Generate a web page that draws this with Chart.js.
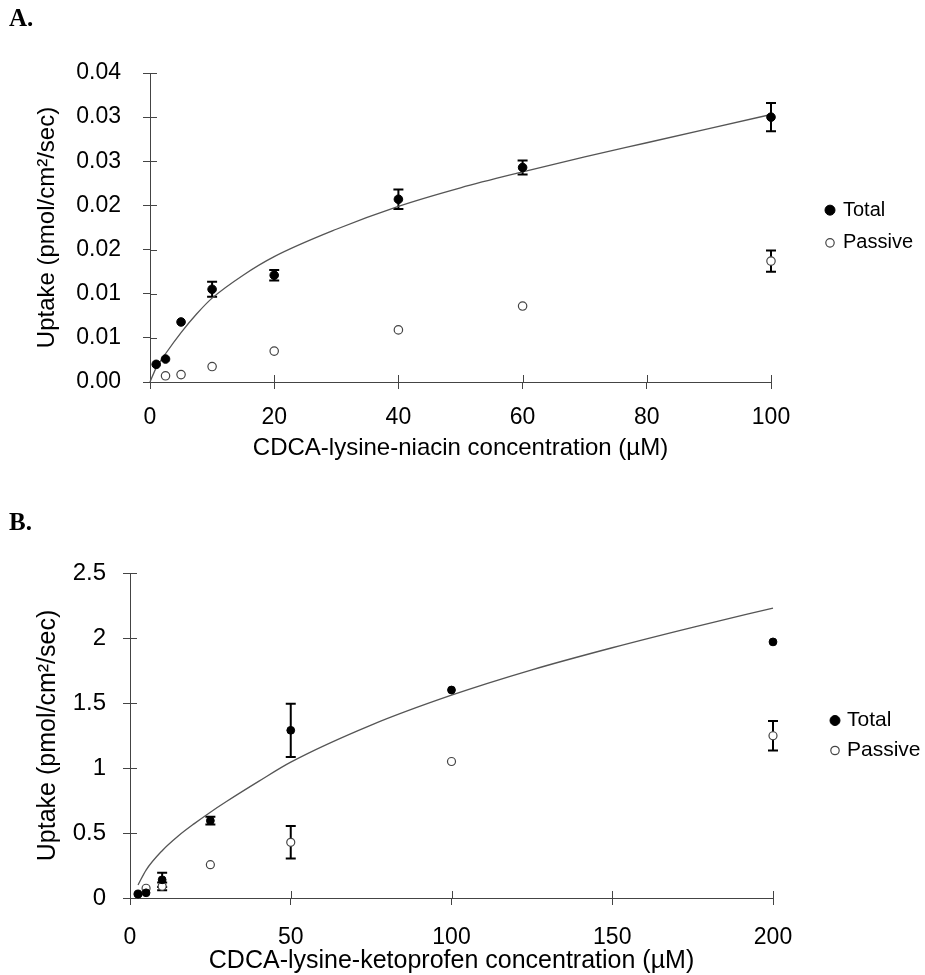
<!DOCTYPE html>
<html>
<head>
<meta charset="utf-8">
<title>Uptake</title>
<script src="https://cdn.jsdelivr.net/npm/chart.js@4.4.1/dist/chart.umd.min.js"></script>
<style>
  html, body { margin: 0; padding: 0; background: #fff; overflow: hidden; }
  .panel { position: absolute; left: 0; width: 925px; }
  #panelA { top: 0; height: 480px; }
  #panelB { top: 480px; height: 495px; }
</style>
</head>
<body>
<div class="panel" id="panelA"><canvas id="chartA"></canvas></div>
<div class="panel" id="panelB"><canvas id="chartB"></canvas></div>
<script>
// Panel A – CDCA-lysine-niacin
const concA = [1, 2.5, 5, 10, 20, 40, 60, 100];
const totalA = [0.0020, 0.0026, 0.0068, 0.0105, 0.0121, 0.0207, 0.0243, 0.0300];
const totalErrA = [0, 0, 0, 0.00085, 0.0006, 0.0011, 0.0008, 0.0016];
const concPassiveA = [2.5, 5, 10, 20, 40, 60, 100];
const passiveA = [0.0007, 0.00084, 0.00175, 0.0035, 0.0059, 0.0086, 0.0137];
const passiveErrA = [0, 0, 0, 0, 0, 0, 0.0012];
const concFitA = [0, 1, 2.5, 5, 7.5, 10, 15, 20, 30, 40, 50, 60, 70, 80, 90, 100];
const fitA = [0, 0.0016, 0.0032, 0.0056, 0.0077, 0.0095, 0.0121, 0.0142, 0.0173, 0.0199, 0.0220, 0.0238, 0.0255, 0.0271, 0.0287, 0.0303];
const yTicksA = ['0.00', '0.01', '0.01', '0.02', '0.02', '0.03', '0.03', '0.04'];

// Panel B – CDCA-lysine-ketoprofen
const concB = [2.5, 5, 10, 25, 50, 100, 200];
const totalB = [0.03, 0.04, 0.14, 0.595, 1.29, 1.60, 1.97];
const totalErrB = [0, 0, 0.055, 0.03, 0.205, 0, 0];
const passiveB = [0.03, 0.075, 0.09, 0.256, 0.428, 1.05, 1.248];
const passiveErrB = [0, 0, 0.03, 0, 0.125, 0, 0.113];
const concFitB = [2.5, 5, 10, 15, 20, 25, 30, 40, 50, 75, 100, 125, 150, 175, 200];
const fitB = [0.10, 0.215, 0.364, 0.477, 0.572, 0.66, 0.742, 0.897, 1.045, 1.33, 1.56, 1.755, 1.925, 2.082, 2.23];
const yTicksB = ['0', '0.5', '1', '1.5', '2', '2.5'];

const FONT = "'Liberation Sans', Arial, sans-serif";
const SERIF = "'Liberation Serif', 'Times New Roman', serif";
const AXIS = '#444';

const toPoints = (xs, ys) => xs.map((x, i) => ({ x, y: ys[i] }));

// error bars, drawn under the markers
const errorBars = {
  id: 'errorBars',
  beforeDatasetsDraw(chart) {
    const { ctx } = chart;
    const xs = chart.scales.x, ys = chart.scales.y;
    ctx.save();
    ctx.strokeStyle = '#000';
    ctx.lineWidth = 2;
    chart.data.datasets.forEach(ds => {
      if (!ds.errors) return;
      ds.data.forEach((p, i) => {
        const e = ds.errors[i];
        if (!e) return;
        const px = xs.getPixelForValue(p.x);
        const top = ys.getPixelForValue(p.y + e);
        const bot = ys.getPixelForValue(p.y - e);
        ctx.beginPath();
        ctx.moveTo(px, top); ctx.lineTo(px, bot);
        ctx.moveTo(px - 5, top); ctx.lineTo(px + 5, top);
        ctx.moveTo(px - 5, bot); ctx.lineTo(px + 5, bot);
        ctx.stroke();
      });
    });
    ctx.restore();
  },
};

// tick marks cross the axis: add the inner half
const crossTicks = {
  id: 'crossTicks',
  beforeDatasetsDraw(chart) {
    const { ctx, chartArea } = chart;
    const xs = chart.scales.x, ys = chart.scales.y;
    ctx.save();
    ctx.strokeStyle = AXIS;
    ctx.lineWidth = 1;
    ctx.beginPath();
    xs.ticks.forEach(t => {
      const px = Math.round(xs.getPixelForValue(t.value)) + 0.5;
      ctx.moveTo(px, chartArea.bottom);
      ctx.lineTo(px, chartArea.bottom - 7);
    });
    ys.ticks.forEach(t => {
      const py = Math.round(ys.getPixelForValue(t.value)) + 0.5;
      ctx.moveTo(chartArea.left, py);
      ctx.lineTo(chartArea.left + 7, py);
    });
    ctx.stroke();
    ctx.restore();
  },
};

// legend to the right of the plot, centred on it
const sideLegend = {
  id: 'sideLegend',
  afterDraw(chart, args, opts) {
    const { ctx, chartArea } = chart;
    const items = chart.data.datasets.filter(ds => ds.inLegend);
    const midY = (chartArea.top + chartArea.bottom) / 2 + opts.offsetY;
    ctx.save();
    ctx.font = `${opts.fontSize}px ${FONT}`;
    ctx.textBaseline = 'middle';
    ctx.textAlign = 'left';
    items.forEach((ds, i) => {
      const cy = midY + (i - (items.length - 1) / 2) * opts.rowGap;
      ctx.beginPath();
      ctx.arc(chartArea.right + opts.markerX, cy, ds.legendRadius, 0, Math.PI * 2);
      ctx.fillStyle = ds.backgroundColor;
      ctx.fill();
      ctx.lineWidth = ds.borderWidth;
      ctx.strokeStyle = ds.borderColor;
      ctx.stroke();
      ctx.fillStyle = '#000';
      ctx.fillText(ds.label, chartArea.right + opts.textX, cy);
    });
    ctx.restore();
  },
};

function panelChart(id, p) {
  return new Chart(document.getElementById(id), {
    type: 'scatter',
    data: {
      datasets: [
        {
          label: 'Total',
          data: toPoints(p.conc, p.total),
          errors: p.totalErr,
          inLegend: true,
          legendRadius: 5,
          backgroundColor: '#000',
          borderColor: '#000',
          borderWidth: 1,
          pointRadius: p.dot,
          clip: false,
        },
        {
          label: 'Passive',
          data: toPoints(p.passiveConc, p.passive),
          errors: p.passiveErr,
          inLegend: true,
          legendRadius: 4.2,
          backgroundColor: '#fff',
          borderColor: '#444',
          borderWidth: 1.2,
          pointRadius: p.ring,
          clip: false,
        },
        {
          label: 'Fit',
          data: toPoints(p.fitConc, p.fit),
          showLine: true,
          pointRadius: 0,
          borderColor: '#555',
          borderWidth: 1.3,
          cubicInterpolationMode: 'monotone',
          clip: false,
        },
      ],
    },
    options: {
      responsive: true,
      maintainAspectRatio: false,
      animation: false,
      events: [],
      layout: { padding: { left: 9, right: p.padRight, top: 0, bottom: 0 } },
      plugins: {
        legend: { display: false },
        tooltip: { enabled: false },
        title: {
          display: true,
          text: p.panel,
          align: 'start',
          color: '#000',
          font: { family: SERIF, size: 25, weight: 'bold', lineHeight: 1.2 },
          padding: { top: p.panelTop, bottom: p.panelBottom },
        },
        sideLegend: p.legend,
      },
      scales: {
        x: {
          type: 'linear',
          min: 0,
          max: p.xMax,
          border: { color: AXIS, width: 1 },
          grid: { drawOnChartArea: false, color: AXIS, tickLength: 7 },
          ticks: {
            stepSize: p.xStep,
            color: '#000',
            padding: p.xTickPad,
            maxRotation: 0,
            font: { family: FONT, size: 23 },
          },
          title: {
            display: true,
            text: p.xTitle,
            color: '#000',
            font: { family: FONT, size: p.xTitleSize, lineHeight: p.xTitleLH },
            padding: { top: 0, bottom: p.xTitlePad },
          },
          afterFit(s) { s.height = p.xAxisH; },
        },
        y: {
          type: 'linear',
          min: 0,
          max: p.yMax,
          border: { color: AXIS, width: 1 },
          grid: { drawOnChartArea: false, color: AXIS, tickLength: 7 },
          ticks: {
            stepSize: p.yStep,
            color: '#000',
            padding: p.yTickPad,
            font: { family: FONT, size: p.yTickSize },
            callback: (v, i) => p.yTicks[i],
          },
          title: {
            display: true,
            text: 'Uptake (pmol/cm²/sec)',
            color: '#000',
            font: { family: FONT, size: p.yTitleSize },
            padding: { top: p.yTitlePad, bottom: 0 },
          },
          afterFit(s) { s.width = p.yAxisW; },
        },
      },
    },
    plugins: [errorBars, crossTicks, sideLegend],
  });
}

panelChart('chartA', {
  panel: 'A.', panelTop: 4.6, panelBottom: 38.4,
  conc: concA, total: totalA, totalErr: totalErrA,
  passiveConc: concPassiveA, passive: passiveA, passiveErr: passiveErrA,
  fitConc: concFitA, fit: fitA,
  dot: 4.3, ring: 4.2,
  padRight: 154,
  xMax: 100, xStep: 20, xTickPad: 15, xTitle: 'CDCA-lysine-niacin concentration (µM)',
  xTitleSize: 24, xTitleLH: 1.2, xTitlePad: 17.6, xAxisH: 98,
  yMax: 0.035, yStep: 0.005, yTicks: yTicksA, yTickPad: 22, yTickSize: 23,
  yTitleSize: 24, yTitlePad: 23.6, yAxisW: 141,
  legend: { markerX: 59, textX: 72, rowGap: 32.7, fontSize: 20, offsetY: -1 },
});

panelChart('chartB', {
  panel: 'B.', panelTop: 28.3, panelBottom: 34.7,
  conc: concB, total: totalB, totalErr: totalErrB,
  passiveConc: concB, passive: passiveB, passiveErr: passiveErrB,
  fitConc: concFitB, fit: fitB,
  dot: 3.9, ring: 4.0,
  padRight: 152,
  xMax: 200, xStep: 50, xTickPad: 19, xTitle: 'CDCA-lysine-ketoprofen concentration (µM)',
  xTitleSize: 25, xTitleLH: 1.0, xTitlePad: 1.5, xAxisH: 77,
  yMax: 2.5, yStep: 0.5, yTicks: yTicksB, yTickPad: 17, yTickSize: 24,
  yTitleSize: 25, yTitlePad: 24, yAxisW: 121,
  legend: { markerX: 62, textX: 74, rowGap: 30, fontSize: 21, offsetY: 0 },
});
</script>
</body>
</html>
